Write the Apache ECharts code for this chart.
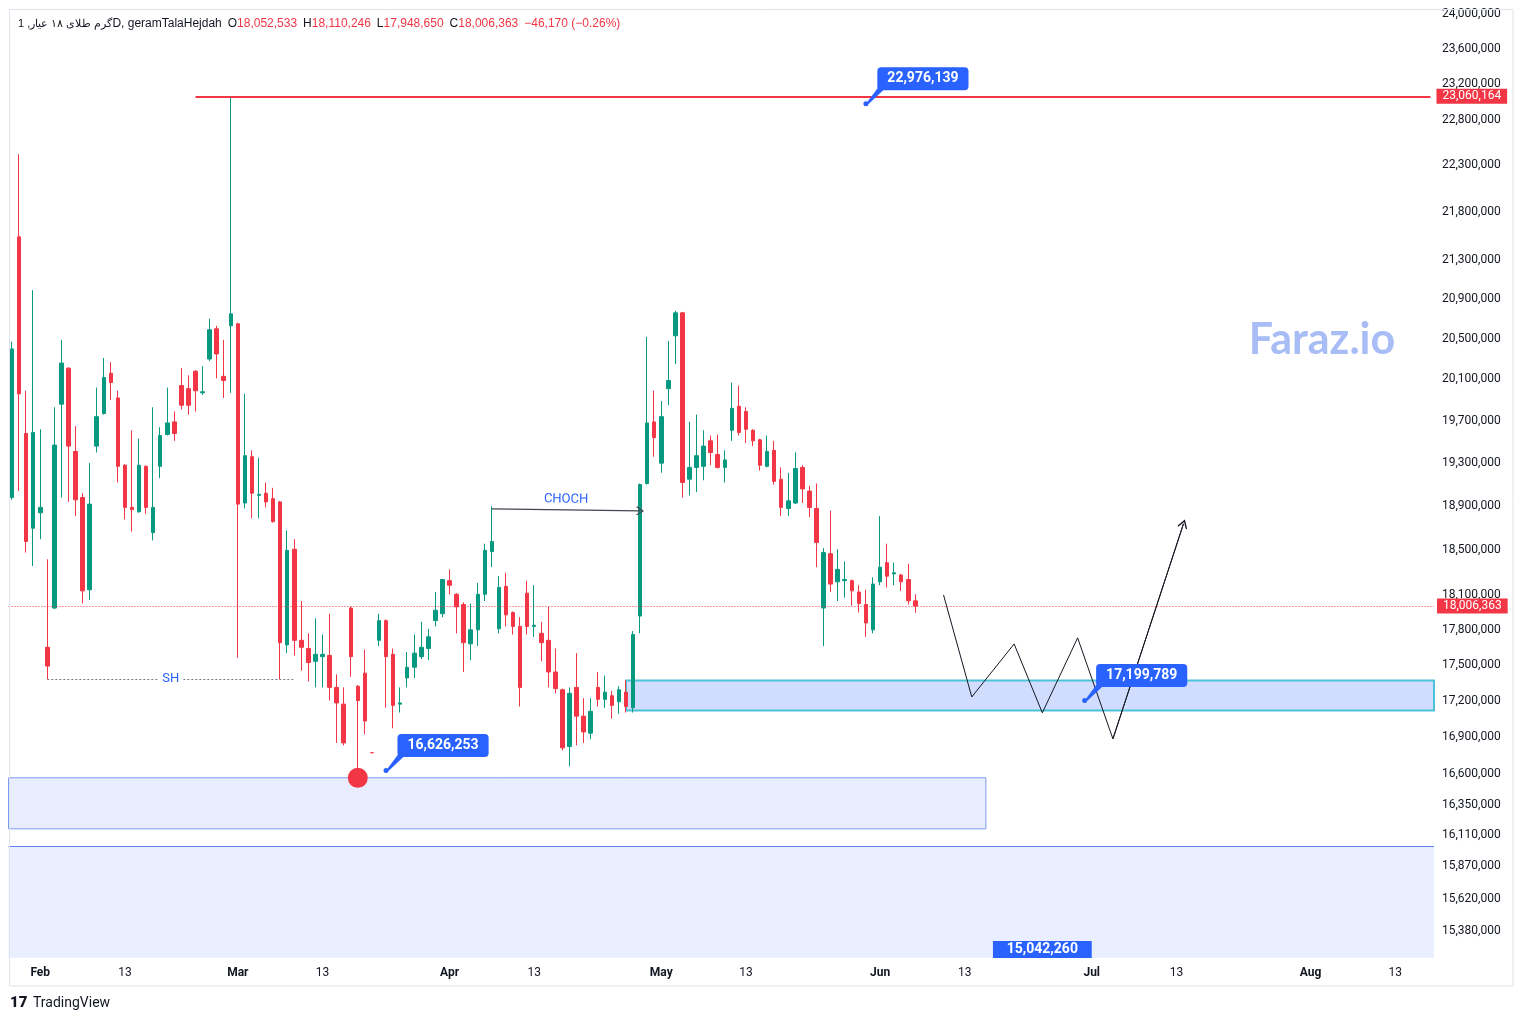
<!DOCTYPE html>
<html>
<head>
<meta charset="utf-8">
<title>geramTalaHejdah 1D</title>
<script src="https://cdn.jsdelivr.net/npm/echarts@6.0.0/dist/echarts.min.js"></script>
<style>
  html, body { margin: 0; padding: 0; background: #fff; }
  #chart { width: 1523px; height: 1021px; }
</style>
</head>
<body>
<div id="chart"></div>
<script>
// daily bars, first bar 2023-01-28
var opens = [18980000,21540000,19580000,18700000,18840000,17650000,17990000,19860000,20210000,19410000,
  18980000,18150000,19460000,19770000,20160000,19920000,19280000,18890000,18850000,19270000,
  18660000,19270000,19570000,19690000,20040000,20010000,20180000,19970000,20300000,20600000,
  20130000,20630000,20650000,18930000,19360000,19000000,19020000,18970000,18940000,17670000,
  18510000,17710000,17640000,17530000,17570000,17580000,17310000,17170000,17990000,17320000,
  17430000,16770000,17710000,17880000,17590000,17170000,17390000,17480000,17570000,17640000,
  17880000,17940000,18230000,18110000,18020000,17680000,17800000,18110000,18490000,17810000,
  18180000,17950000,17830000,18120000,17830000,17770000,17710000,17440000,17290000,16820000,
  17310000,17070000,16930000,17310000,17210000,17240000,17190000,17270000,17140000,17920000,
  19110000,19690000,19300000,20010000,20530000,20760000,19150000,19260000,19270000,19510000,
  19380000,19260000,19610000,19840000,19790000,19610000,19520000,19270000,19420000,19150000,
  18880000,18930000,19260000,19040000,18880000,17990000,18470000,18220000,18230000,18230000,
  18130000,18020000,17800000,18220000,18390000,18290000,18280000,18240000,18052533];
var highs = [20470000,22420000,19990000,20990000,19620000,18420000,19830000,20490000,20220000,19650000,
  19020000,19300000,20020000,20310000,20270000,19990000,19290000,19610000,19530000,19280000,
  19830000,19640000,20020000,19790000,20210000,20140000,20190000,20230000,20700000,20630000,
  20490000,23060164,20660000,19960000,19420000,19350000,19120000,19070000,18950000,18680000,
  18600000,18050000,17770000,17900000,17760000,17940000,17420000,17310000,18000000,17330000,
  17630000,16770000,17940000,17890000,17640000,17310000,17610000,17760000,17870000,17810000,
  18130000,18240000,18330000,18120000,18040000,18030000,18210000,18560000,18900000,18270000,
  18300000,17960000,17910000,18230000,18190000,17870000,18000000,17640000,17300000,17310000,
  17600000,17220000,17220000,17440000,17410000,17280000,17320000,17370000,17790000,19110000,
  20520000,19990000,19890000,20480000,20780000,20770000,19690000,19760000,19610000,19560000,
  19570000,19420000,20070000,20040000,19830000,19620000,19530000,19560000,19510000,19260000,
  19210000,19400000,19280000,19090000,19110000,18520000,18860000,18510000,18400000,18240000,
  18190000,18150000,18260000,18810000,18560000,18390000,18290000,18380000,18110246];
var lows = [18960000,19040000,18480000,18360000,18600000,17380000,17980000,18980000,18940000,18810000,
  18030000,18060000,19400000,19760000,19900000,19120000,18780000,18670000,18840000,18830000,
  18590000,19160000,19560000,19510000,19810000,19760000,19790000,19950000,20280000,20110000,
  19920000,19970000,17560000,18880000,18790000,18790000,18890000,18750000,17380000,17600000,
  17580000,17450000,17360000,17310000,17310000,17200000,16850000,16830000,17400000,16626253,
  16920000,16770000,17660000,17140000,16970000,17100000,17310000,17390000,17550000,17540000,
  17830000,17910000,18110000,17770000,17440000,17540000,17660000,18050000,18350000,17770000,
  17830000,17760000,17150000,17760000,17740000,17530000,17310000,17260000,16790000,16660000,
  16830000,16850000,16880000,17150000,17140000,17050000,17090000,17100000,17100000,17770000,
  19100000,19360000,19210000,19850000,20250000,18980000,19000000,19030000,19140000,19280000,
  19250000,19120000,19510000,19560000,19490000,19460000,19230000,19260000,19100000,18810000,
  18810000,18920000,18930000,18800000,18350000,17660000,18130000,18050000,18080000,18010000,
  17950000,17740000,17770000,18190000,18170000,18190000,18140000,18020000,17948650];
var closes = [20400000,19960000,18580000,19590000,18890000,17490000,19470000,20260000,19460000,18960000,
  18140000,18920000,19740000,20120000,20070000,19270000,18890000,18870000,19280000,18890000,
  18890000,19560000,19680000,19580000,19850000,19850000,19990000,19980000,20590000,20350000,
  20090000,20750000,18920000,19370000,19020000,19010000,18940000,18760000,17690000,18500000,
  17710000,17650000,17520000,17590000,17590000,17310000,17180000,16850000,17570000,17200000,
  17030000,16770000,17880000,17570000,17160000,17180000,17480000,17600000,17650000,17740000,
  17970000,18240000,18190000,18000000,17690000,17800000,18110000,18500000,18580000,18170000,
  17930000,17830000,17310000,17830000,17840000,17690000,17440000,17300000,16810000,17260000,
  17070000,16940000,17110000,17210000,17270000,17160000,17290000,17150000,17760000,19100000,
  19680000,19540000,19740000,20090000,20760000,19120000,19260000,19370000,19460000,19400000,
  19260000,19330000,19820000,19590000,19620000,19510000,19280000,19410000,19130000,18890000,
  18950000,19250000,19060000,18890000,18570000,18480000,18200000,18330000,18240000,18140000,
  18030000,17860000,18200000,18350000,18270000,18300000,18220000,18052533,18006363];

// calendar of the time scale (one March holiday has no bar)
var firstDay = '2023-01-28', lastDay = '2023-08-18', missingDays = ['2023-03-21'];
var monthNames = ['Jan', 'Feb', 'Mar', 'Apr', 'May', 'Jun', 'Jul', 'Aug', 'Sep', 'Oct', 'Nov', 'Dec'];
var labelDays = [1, 13];

// price scale labels
var priceTicks = [24000000, 23600000, 23200000, 22800000, 22300000, 21800000, 21300000, 20900000,
  20500000, 20100000, 19700000, 19300000, 18900000, 18500000, 18100000, 17800000, 17500000,
  17200000, 16900000, 16600000, 16350000, 16110000, 15870000, 15620000, 15380000];

// drawings on the chart
var resistance = 23060164, resistanceFrom = '2023-02-23';
var shLevel = 17382000, shRange = ['2023-02-02', '2023-03-09'];
var chochFrom = ['2023-04-07', 18876000], chochTo = ['2023-04-28', 18858000];
var zoneAFrom = '2023-04-26', zoneABand = [17368000, 17117000];
var zoneBTo = '2023-06-16', zoneBBand = [16567000, 16162000];
var zoneCTop = 16028000;
var noteDates = ['2023-05-30', '2023-03-23', '2023-06-30'];
var noteValues = [22976139, 16626253, 17199789];
var lowNoteRange = ['2023-06-17', '2023-07-01'], lowNoteTop = 15306000, lowNoteValue = 15042260;
var circleAt = ['2023-03-18', 16567000];
var pathDates = ['2023-06-10', '2023-06-14', '2023-06-20', '2023-06-24', '2023-06-29', '2023-07-04', '2023-07-14'];
var pathValues = [18104000, 17230000, 17679000, 17098000, 17731000, 16883000, 18740000];

var UP = '#089981', DOWN = '#f23645', BLUE = '#2962ff', INK = '#131722';
var FONT = 'Roboto, "DejaVu Sans", sans-serif';
var TAIL = 'path://M0,16 L12,0 L20,0 L3,16 Z';
var CHEVRON = 'path://M5,0 L10,8 L9,9 L5,2.6 L1,9 L0,8 Z';

function fmt(v) { return Math.round(v).toLocaleString('en-US'); }

var dates = [];
for (var t = Date.parse(firstDay); t <= Date.parse(lastDay); t += 864e5) {
  var s = new Date(t).toISOString().slice(0, 10);
  if (missingDays.indexOf(s) < 0) dates.push(s);
}

var candles = opens.map(function (o, i) { return [o, closes[i], lows[i], highs[i]]; });
var last = opens.length - 1;
var change = closes[last] - closes[last - 1];
var changeText = (change < 0 ? '\u2212' : '+') + fmt(Math.abs(change)) + ' (' +
  (change < 0 ? '\u2212' : '+') + Math.abs(change / closes[last - 1] * 100).toFixed(2) + '%)';

function priceTag(v, gap) {
  return { show: true, position: 'end', formatter: fmt(v), color: '#fff', backgroundColor: DOWN,
    padding: [2, 6, 1, 6], fontSize: 12, fontFamily: FONT, distance: gap };
}

var noteMarks = [];
noteDates.forEach(function (d, i) {
  noteMarks.push({ coord: [d, noteValues[i]], symbol: 'circle', symbolSize: 5,
    itemStyle: { color: BLUE }, label: { show: false } });
  noteMarks.push({ coord: [d, noteValues[i]], symbol: TAIL, symbolSize: [20, 16], symbolOffset: [10, -8],
    itemStyle: { color: BLUE },
    label: { show: true, position: 'inside', offset: [47, -17], formatter: fmt(noteValues[i]),
      color: '#fff', fontWeight: 'bold', fontSize: 14, fontFamily: FONT,
      backgroundColor: BLUE, borderRadius: 4, padding: [5, 10, 4, 10] } });
});
noteMarks.push({ coord: circleAt, symbol: 'circle', symbolSize: 20,
  itemStyle: { color: DOWN }, label: { show: false } });

var chart = echarts.init(document.getElementById('chart'));
var option = {
  animation: false,
  backgroundColor: '#ffffff',
  textStyle: { fontFamily: FONT },
  grid: { left: 8.5, right: 89, top: 9.5, bottom: 63 },
  xAxis: {
    type: 'category',
    data: dates,
    axisLine: { show: false },
    axisTick: { show: false },
    splitLine: { show: false },
    axisLabel: {
      color: INK, fontSize: 12, margin: 9,
      interval: function (i, v) { return labelDays.indexOf(+v.slice(8, 10)) >= 0; },
      formatter: function (v) {
        var d = +v.slice(8, 10);
        return d === 1 ? '{m|' + monthNames[+v.slice(5, 7) - 1] + '}' : String(d);
      },
      rich: { m: { fontWeight: 'bold', fontSize: 12, color: INK } }
    }
  },
  yAxis: {
    type: 'log',
    logBase: 10,
    min: 15180000,
    max: 24052000,
    position: 'right',
    axisLine: { show: false },
    axisTick: { show: false },
    splitLine: { show: false },
    axisLabel: { customValues: priceTicks, formatter: fmt, color: INK, fontSize: 12, margin: 8 }
  },
  series: [
    {
      type: 'candlestick',
      name: 'geramTalaHejdah',
      data: candles,
      barWidth: 4,
      silent: true,
      itemStyle: { color: UP, color0: DOWN, borderColor: UP, borderColor0: DOWN, borderWidth: 1 },
      markArea: {
        silent: true,
        label: { show: false },
        data: [
          [{ xAxis: zoneAFrom, yAxis: zoneABand[0],
             itemStyle: { color: 'rgba(41,98,255,0.22)', borderColor: '#4cc3d6', borderWidth: 2 } },
           { yAxis: zoneABand[1] }],
          [{ yAxis: zoneBBand[0],
             itemStyle: { color: 'rgba(41,98,255,0.11)', borderColor: '#7d9cf2', borderWidth: 1 } },
           { xAxis: zoneBTo, yAxis: zoneBBand[1] }],
          [{ yAxis: zoneCTop, itemStyle: { color: 'rgba(41,98,255,0.10)', borderWidth: 0 } },
           { yAxis: lowNoteValue }],
          [{ xAxis: lowNoteRange[0], yAxis: lowNoteTop, itemStyle: { color: BLUE, opacity: 1, borderWidth: 0 },
             label: { show: true, position: 'inside', formatter: fmt(lowNoteValue), color: '#fff',
               fontWeight: 'bold', fontSize: 14, fontFamily: FONT } },
           { xAxis: lowNoteRange[1], yAxis: lowNoteValue }]
        ]
      },
      markLine: {
        silent: true,
        symbol: ['none', 'none'],
        label: { show: false },
        data: [
          { yAxis: closes[last], lineStyle: { color: DOWN, width: 1, type: [1, 2] }, label: priceTag(closes[last], 3) },
          [{ coord: [resistanceFrom, resistance], lineStyle: { color: DOWN, width: 2, type: 'solid' },
             label: priceTag(resistance, 6) },
           { coord: [dates[dates.length - 1], resistance] }],
          [{ coord: [shRange[0], shLevel], lineStyle: { color: '#787b86', width: 1, type: [2, 2] },
             label: { show: true, position: 'middle', distance: 0, verticalAlign: 'middle', formatter: 'SH',
               color: BLUE, fontSize: 13, backgroundColor: '#fff', padding: [0, 4] } },
           { coord: [shRange[1], shLevel] }],
          [{ coord: chochFrom, lineStyle: { color: '#434651', width: 1.2, type: 'solid' },
             label: { show: true, position: 'middle', distance: 4, formatter: 'CHOCH', color: BLUE, fontSize: 13 } },
           { coord: chochTo, symbol: CHEVRON, symbolSize: [9, 8] }],
          { yAxis: zoneCTop, lineStyle: { color: '#5b80ee', width: 1, type: 'solid' } }
        ]
      },
      markPoint: { silent: true, data: noteMarks }
    },
    {
      type: 'line',
      name: 'path',
      data: pathDates.map(function (d, i) { return [d, pathValues[i]]; }),
      symbol: 'none',
      silent: true,
      z: 3,
      lineStyle: { color: '#131722', width: 1 },
      markLine: {
        silent: true,
        symbol: ['none', 'none'],
        label: { show: false },
        lineStyle: { color: '#131722', width: 1, type: 'solid' },
        data: [[{ coord: [pathDates[5], pathValues[5]] },
                { coord: [pathDates[6], pathValues[6]], symbol: CHEVRON, symbolSize: [10, 9] }]]
      }
    }
  ],
  graphic: [
    { type: 'rect', silent: true, z: 100,
      shape: { x: 9.5, y: 9.5, width: 1503.5, height: 976.5 },
      style: { fill: 'none', stroke: '#e0e3eb', lineWidth: 1 } },
    { type: 'text', silent: true, z: 100, x: 18, y: 24,
      style: {
        text: '{p|\u06AF\u0631\u0645 \u0637\u0644\u0627\u06CC \u06F1\u06F8 \u0639\u06CC\u0627\u0631, 1}{t|D, geramTalaHejdah}  ' +
          '{k|O}{v|' + fmt(opens[last]) + '}  {k|H}{v|' + fmt(highs[last]) + '}  {k|L}{v|' + fmt(lows[last]) +
          '}  {k|C}{v|' + fmt(closes[last]) + '}  {v|' + changeText + '}',
        font: '12px ' + FONT, fill: INK, verticalAlign: 'middle',
        rich: { p: { fill: INK, fontSize: 11 }, t: { fill: INK, fontSize: 12 }, k: { fill: INK, fontSize: 12 },
          v: { fill: DOWN, fontSize: 12 } }
      } },
    { type: 'text', silent: true, z: 100, x: 1322, y: 340,
      style: { text: 'Faraz.io', font: 'bold 43px Lato, Roboto, sans-serif', fill: '#a8bcf6',
        align: 'center', verticalAlign: 'middle' } },
    { type: 'text', silent: true, z: 100, x: 10, y: 1003,
      style: { text: '17', font: '900 15px Roboto, sans-serif', fill: INK, verticalAlign: 'middle' } },
    { type: 'text', silent: true, z: 100, x: 33, y: 1003,
      style: { text: 'TradingView', font: '14px ' + FONT, fill: INK, verticalAlign: 'middle' } }
  ]
};
chart.setOption(option);
</script>
</body>
</html>
